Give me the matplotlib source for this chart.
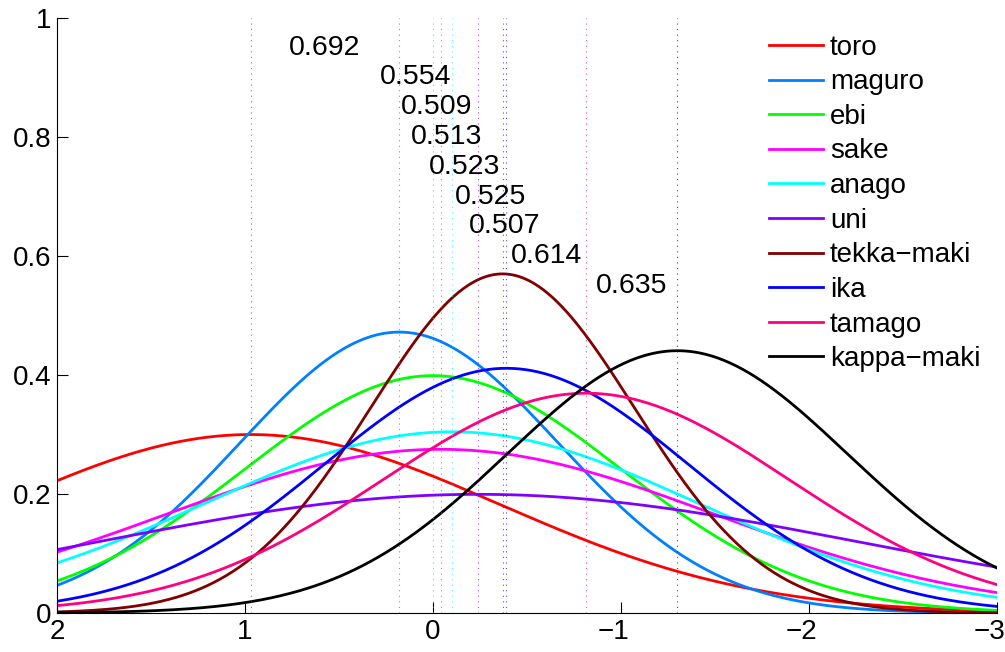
import numpy as np
import matplotlib
matplotlib.use("Agg")
import matplotlib.pyplot as plt
import matplotlib.transforms as mtransforms

names = ['toro', 'maguro', 'ebi', 'sake', 'anago', 'uni',
         'tekka\u2212maki', 'ika', 'tamago', 'kappa\u2212maki']
means = [0.97, 0.18, 0.0, -0.04, -0.10, -0.24, -0.37, -0.39, -0.815, -1.30]
stds = [1.33, 0.845, 1.0, 1.45, 1.31, 2.0, 0.70, 0.97, 1.08, 0.905]
colors = ['#ff0000', '#0080ff', '#00ff00', '#ff00ff', '#00ffff',
          '#8000ff', '#800000', '#0000ff', '#ff0080', '#000000']
pair_labels = ['0.692', '0.554', '0.509', '0.513', '0.523',
               '0.525', '0.507', '0.614', '0.635']
xticks = [2, 1, 0, -1, -2, -3]
yticks = [0, 0.2, 0.4, 0.6, 0.8, 1]

plt.rcParams['font.family'] = ['Liberation Sans', 'DejaVu Sans']
plt.rcParams['font.size'] = 20

fig = plt.figure(figsize=(10.05, 6.52), dpi=100)
ax = fig.add_axes([57 / 1005, 1 - 613 / 652, 940 / 1005, 595 / 652])

x = np.linspace(-3, 2, 600)
for name, m, s, c in zip(names, means, stds, colors):
    y = np.exp(-0.5 * ((x - m) / s) ** 2) / (s * np.sqrt(2 * np.pi))
    ax.plot(x, y, color=c, lw=2, label=name)

for m, c in zip(means, colors):
    ax.plot([m, m], [0, 1], color=c, lw=0.8, ls=(0, (1, 4)), alpha=0.7)

# overlap numbers between consecutive distributions
for i, txt in enumerate(pair_labels):
    xm = (means[i] + means[i + 1]) / 2
    ax.text(xm, 0.95 - 0.05 * i, txt, ha='center', va='center', fontsize=20.5)

ax.set_xlim(2, -3)
ax.set_ylim(0, 1)
ax.set_xticks(xticks)
ax.set_xticklabels([str(t).replace('-', '\u2212') for t in xticks])
ax.set_yticks(yticks)
ax.set_yticklabels(['0', '0.2', '0.4', '0.6', '0.8', '1'])
ax.tick_params(direction='in', length=8, width=0.8, pad=4)
ax.spines['top'].set_visible(False)
ax.spines['right'].set_visible(False)

# minus sign hangs to the left, like matlab
shift = mtransforms.ScaledTranslation(-8 / 100, 0, fig.dpi_scale_trans)
for t, lab in zip(xticks, ax.get_xticklabels()):
    if t < 0:
        lab.set_transform(lab.get_transform() + shift)

ax.legend(loc='upper right', bbox_to_anchor=(1.0, 1.0), frameon=False,
          handlelength=1.95, handletextpad=0.25, labelspacing=0.31,
          borderaxespad=0.2, fontsize=20)

fig.savefig('out.png', dpi=100)
